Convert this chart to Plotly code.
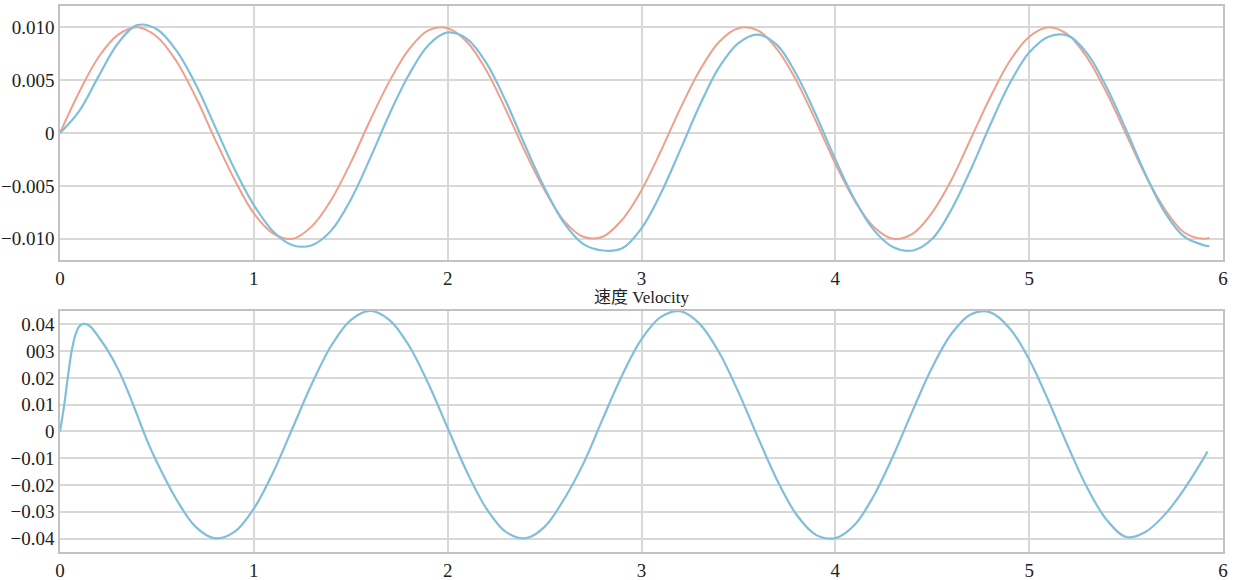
import plotly.graph_objects as go

# ---- data ----
t_pos = [0.0, 0.1, 0.2, 0.3, 0.4, 0.5, 0.6, 0.7, 0.8, 0.9, 1.0, 1.1, 1.2, 1.3, 1.4, 1.5,
         1.6, 1.7, 1.8, 1.9, 2.0, 2.1, 2.2, 2.3, 2.4, 2.5, 2.6, 2.7, 2.8, 2.9, 3.0, 3.1, 3.2,
         3.3, 3.4, 3.5, 3.6, 3.7, 3.8, 3.9, 4.0, 4.1, 4.2, 4.3, 4.4, 4.5, 4.6, 4.7, 4.8, 4.9, 5.0,
         5.1, 5.2, 5.3, 5.4, 5.5, 5.6, 5.7, 5.8, 5.9, 5.93]
ref_pos = [0.0, 0.0039, 0.0072, 0.0093, 0.0100, 0.0091, 0.0068, 0.0034, -0.0006, -0.0044,
           -0.0076, -0.0095, -0.0100, -0.0088, -0.0063, -0.0028, 0.0012, 0.0049, 0.0079,
           0.0097, 0.0099, 0.0086, 0.0059, 0.0022, -0.0018, -0.0054, -0.0083, -0.0098, -0.0098,
           -0.0082, -0.0054, -0.0017, 0.0023, 0.0059, 0.0086, 0.0099, 0.0097, 0.0079,
           0.0049, 0.0011, -0.0029, -0.0064, -0.0089, -0.0100, -0.0095, -0.0075, -0.0044, -0.0005,
           0.0034, 0.0068, 0.0091, 0.0100, 0.0093, 0.0071, 0.0038, -0.0001, -0.0040, -0.0072,
           -0.0094, -0.0100, -0.0099]
act_pos = [0.0, 0.0021, 0.0054, 0.0085, 0.0102, 0.0098, 0.0078, 0.0046, 0.0006, -0.0034,
           -0.0068, -0.0093, -0.0106, -0.0106, -0.0092, -0.0063, -0.0024, 0.0018, 0.0055,
           0.0083, 0.0095, 0.0089, 0.0066, 0.0030, -0.0012, -0.0052, -0.0085, -0.0105, -0.0111,
           -0.0109, -0.0090, -0.0057, -0.0016, 0.0026, 0.0062, 0.0085, 0.0093, 0.0083,
           0.0055, 0.0017, -0.0025, -0.0063, -0.0092, -0.0108, -0.0111, -0.0100, -0.0072, -0.0034,
           0.0008, 0.0047, 0.0076, 0.0091, 0.0092, 0.0075, 0.0043, 0.0003, -0.0039, -0.0075,
           -0.0098, -0.0106, -0.0107]

t_vel = [0.0, 0.02, 0.04, 0.06, 0.08, 0.1, 0.12, 0.15, 0.2, 0.25, 0.3, 0.35, 0.4, 0.45, 0.5, 0.6,
         0.7, 0.8, 0.9, 1.0, 1.1, 1.2, 1.3, 1.4, 1.5, 1.6, 1.7, 1.8, 1.9, 2.0, 2.1, 2.2, 2.3, 2.4,
         2.5, 2.6, 2.7, 2.8, 2.9, 3.0, 3.1, 3.2, 3.3, 3.4, 3.5, 3.6, 3.7, 3.8, 3.9, 4.0, 4.1, 4.2,
         4.3, 4.4, 4.5, 4.6, 4.7, 4.8, 4.9, 5.0, 5.1, 5.2, 5.3, 5.4, 5.5, 5.6, 5.7, 5.8, 5.9, 5.92]
vel = [0.0, 0.0090, 0.0200, 0.0300, 0.0362, 0.0393, 0.0402, 0.0396, 0.0352, 0.0298, 0.0232,
       0.0150, 0.0058, -0.0035, -0.0115, -0.0253, -0.0356, -0.0399, -0.0375, -0.0288, -0.0152,
       0.0013, 0.0179, 0.0321, 0.0416, 0.0450, 0.0416, 0.0321, 0.0179, 0.0013, -0.0152, -0.0288,
       -0.0375, -0.0399, -0.0356, -0.0253, -0.0120, 0.0047, 0.0210, 0.0345, 0.0428, 0.0449,
       0.0402, 0.0296, 0.0147, -0.0021, -0.0182, -0.0311, -0.0386, -0.0398, -0.0348, -0.0238,
       -0.0088, 0.0080, 0.0240, 0.0366, 0.0438, 0.0445, 0.0385, 0.0269, 0.0114, -0.0055,
       -0.0211, -0.0330, -0.0394, -0.0375, -0.0310, -0.0215, -0.0100, -0.0075]

x_ticks = [0, 1, 2, 3, 4, 5, 6]
y1_ticks = [0.010, 0.005, 0.0, -0.005, -0.010]
y1_text = ["0.010", "0.005", "0", "\u22120.005", "\u22120.010"]
y2_ticks = [0.04, 0.03, 0.02, 0.01, 0.0, -0.01, -0.02, -0.03, -0.04]
y2_text = ["0.04", "003", "0.02", "0.01", "0", "\u22120.01", "\u22120.02", "\u22120.03", "\u22120.04"]
mid_title = "速度 Velocity"

RED = "#efa08d"
BLUE = "#80bfdb"
GRID = "#d8d8d8"
FRAME = "#c2c2c2"
FONT = "Liberation Serif, Noto Sans CJK SC, serif"

fig = go.Figure()
fig.add_trace(go.Scatter(x=t_pos, y=ref_pos, mode="lines", line=dict(color=RED, width=2, shape="spline"),
                         xaxis="x", yaxis="y", showlegend=False))
fig.add_trace(go.Scatter(x=t_pos, y=act_pos, mode="lines", line=dict(color=BLUE, width=2.2, shape="spline"),
                         xaxis="x", yaxis="y", showlegend=False))
fig.add_trace(go.Scatter(x=t_vel, y=vel, mode="lines", line=dict(color=BLUE, width=2.2, shape="spline"),
                         xaxis="x2", yaxis="y2", showlegend=False))

axis_common = dict(showgrid=True, gridcolor=GRID, gridwidth=1.5, zeroline=False,
                   showline=True, linecolor=FRAME, linewidth=1.5, mirror=True, ticks="",
                   automargin=False,
                   tickfont=dict(family=FONT, size=19, color="#222222"))

fig.update_layout(
    width=1240, height=580,
    margin=dict(l=60, r=17, t=6, b=28),
    paper_bgcolor="white", plot_bgcolor="white",
    font=dict(family=FONT, color="#222222"),
    xaxis=dict(domain=[0, 1], range=[0, 6], tickvals=x_ticks, anchor="y", **axis_common),
    yaxis=dict(domain=[0.5348, 1], range=[-0.012, 0.012], tickvals=y1_ticks, ticktext=y1_text,
               anchor="x", **axis_common),
    xaxis2=dict(domain=[0, 1], range=[0, 6], tickvals=x_ticks, anchor="y2", **axis_common),
    yaxis2=dict(domain=[0, 0.4414], range=[-0.045, 0.045], tickvals=y2_ticks, ticktext=y2_text,
                anchor="x2", **axis_common),
    annotations=[dict(text=mid_title, x=0.5, y=0.466, xref="paper", yref="paper",
                      xanchor="center", yanchor="middle", showarrow=False,
                      font=dict(family=FONT, size=17, color="#222222"))],
)

fig.write_html("out.html", config={"displayModeBar": False},
               post_script="document.body.style.margin='0';document.body.style.overflow='hidden';")
